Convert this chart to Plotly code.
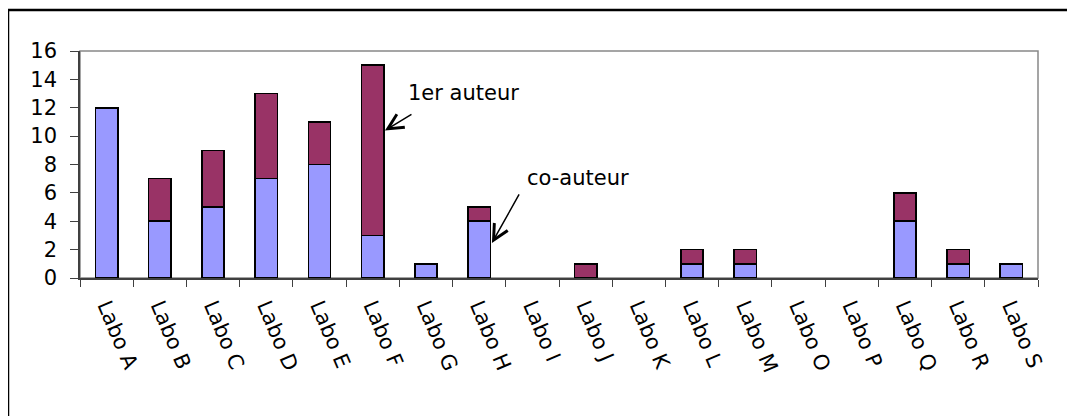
import plotly.graph_objects as go

categories = ["Labo A", "Labo B", "Labo C", "Labo D", "Labo E", "Labo F", "Labo G",
              "Labo H", "Labo I", "Labo J", "Labo K", "Labo L", "Labo M", "Labo O",
              "Labo P", "Labo Q", "Labo R", "Labo S"]
co_auteur = [12, 4, 5, 7, 8, 3, 1, 4, 0, 0, 0, 1, 1, 0, 0, 4, 1, 1]
premier_auteur = [0, 3, 4, 6, 3, 12, 0, 1, 0, 1, 0, 1, 1, 0, 0, 2, 1, 0]
y_ticks = [0, 2, 4, 6, 8, 10, 12, 14, 16]

# the page adds an 8px body margin; compensate so the plot lands where the reference has it
OFF = 8
W, H = 1075 - OFF, 416 - OFF
PL, PR, PT, PB = 80, 1038, 51, 278          # plot-area edges in page pixels
L, R, T, B = PL - OFF, (W + OFF) - PR, PT - OFF, (H + OFF) - PB
pw, ph = PR - PL, PB - PT


def px(x):
    return (x - PL) / pw


def py(y):
    return (PB - y) / ph


def nz(vals):
    return [v if v != 0 else None for v in vals]


fam = "DejaVu Sans, Liberation Sans, Arial, sans-serif"
font = dict(family=fam, size=21, color="black")

fig = go.Figure()
fig.add_trace(go.Bar(x=categories, y=nz(co_auteur), name="co-auteur",
                     marker=dict(color="#9999FF", line=dict(color="black", width=1.6))))
fig.add_trace(go.Bar(x=categories, y=nz(premier_auteur), name="1er auteur",
                     marker=dict(color="#993366", line=dict(color="black", width=1.6))))

fig.update_layout(
    width=W, height=H, barmode="stack", bargap=0.58, showlegend=False,
    margin=dict(l=L, r=R, t=T, b=B, pad=0),
    paper_bgcolor="white", plot_bgcolor="white", font=font,
    xaxis=dict(type="category", tickangle=67, tickson="boundaries", ticks="outside",
               ticklen=7, tickcolor="#404040", showline=True, linecolor="#404040",
               linewidth=1.5, showgrid=False, tickfont=font, range=[-0.5, 17.5],
               ticklabelstandoff=6),
    yaxis=dict(range=[0, 16], tickvals=y_ticks, ticks="outside", ticklen=8,
               tickcolor="#404040", showline=True, linecolor="#404040", linewidth=1.5,
               showgrid=False, zeroline=False, tickfont=font, ticklabelstandoff=9),
    shapes=[
        dict(type="rect", xref="paper", yref="paper", x0=0, x1=1, y0=0, y1=1,
             line=dict(color="#888888", width=1.5), layer="below"),
        dict(type="rect", xref="paper", yref="paper", x0=px(8), x1=px(1090),
             y0=py(430), y1=py(10), line=dict(color="black", width=2.5)),
    ],
    annotations=[
        dict(x=6.7, y=13.05, text="1er auteur", showarrow=False,
             font=dict(family=fam, size=21, color="black")),
        dict(x=8.86, y=7.05, text="co-auteur", showarrow=False,
             font=dict(family=fam, size=21, color="black")),
        dict(x=5.23, y=10.4, text="", showarrow=True, ax=28, ay=-17,
             arrowhead=5, arrowsize=2, arrowwidth=1.5, arrowcolor="black", standoff=0),
        dict(x=7.24, y=2.47, text="", showarrow=True, ax=28, ay=-50,
             arrowhead=5, arrowsize=2, arrowwidth=1.5, arrowcolor="black", standoff=0),
    ],
)

fig.write_html("out.html")
